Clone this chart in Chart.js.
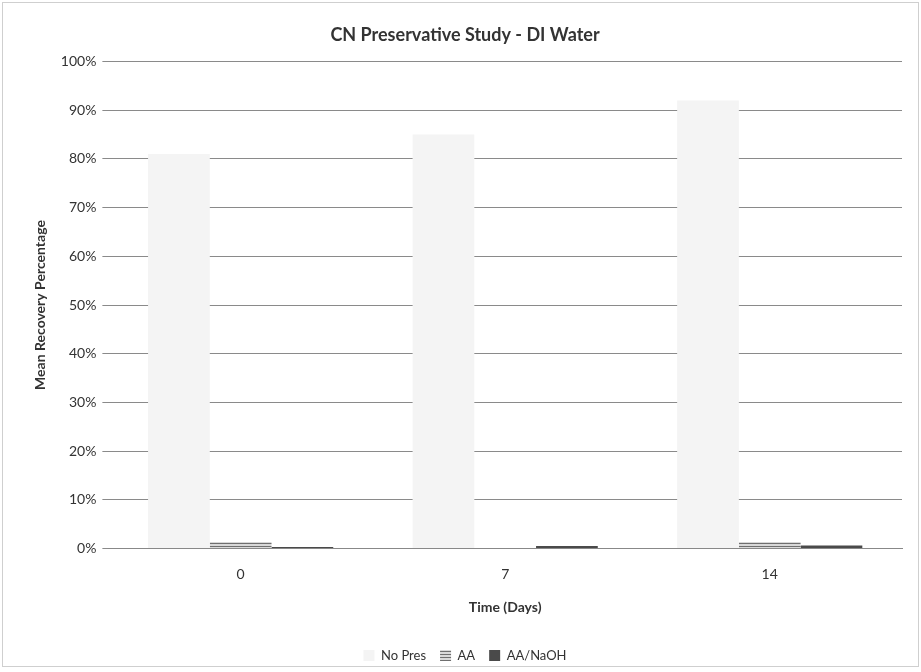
<!DOCTYPE html>
<html>
<head>
<meta charset="utf-8">
<script src="https://cdn.jsdelivr.net/npm/chart.js@4/dist/chart.umd.min.js"></script>
<style>
  body { margin: 0; background: #fff; }
  #wrap { width: 921px; height: 672px; }
</style>
</head>
<body>
<div id="wrap"><canvas id="cnChart" width="921" height="672"></canvas></div>
<script>
const days = ['0', '7', '14'];
const noPres = [81, 85, 92];
const aa = [1.3, 0.1, 1.3];
const aaNaOH = [0.3, 0.5, 0.6];
const yTicks = [0, 10, 20, 30, 40, 50, 60, 70, 80, 90, 100];

// horizontal stripes for the AA series
function stripes() {
  const c = document.createElement('canvas');
  c.width = 6; c.height = 3;
  const g = c.getContext('2d');
  g.fillStyle = '#d8d8d8';
  g.fillRect(0, 0, 6, 3);
  g.fillStyle = '#6f6f6f';
  g.fillRect(0, 0, 6, 1);
  return g.createPattern(c, 'repeat');
}

const frame = {
  id: 'frame',
  beforeDraw(chart) {
    const ctx = chart.ctx;
    ctx.save();
    ctx.fillStyle = '#fff';
    ctx.fillRect(0, 0, chart.width, chart.height);
    ctx.strokeStyle = '#cfcfcf';
    ctx.lineWidth = 1;
    ctx.strokeRect(2.5, 2.5, chart.width - 5, chart.height - 8);
    ctx.restore();
  }
};

Chart.defaults.font.family = 'Lato, "Liberation Sans", sans-serif';
Chart.defaults.color = '#333';

new Chart(document.getElementById('cnChart').getContext('2d'), {
  type: 'bar',
  data: {
    labels: days,
    datasets: [
      { label: 'No Pres', data: noPres, backgroundColor: '#f4f4f4' },
      { label: 'AA', data: aa, backgroundColor: stripes(), borderColor: '#777', borderWidth: 0 },
      { label: 'AA/NaOH', data: aaNaOH, backgroundColor: '#4a4a4a' }
    ]
  },
  options: {
    responsive: false,
    animation: false,
    layout: { padding: { left: 28, right: 19, top: 6, bottom: 0 } },
    datasets: { bar: { categoryPercentage: 0.7, barPercentage: 1.0 } },
    plugins: {
      title: {
        display: true,
        text: 'CN Preservative Study - DI Water',
        font: { size: 18, weight: 'bold' },
        color: '#333',
        padding: { top: 18, bottom: 16 }
      },
      legend: {
        position: 'bottom',
        labels: { boxWidth: 11, boxHeight: 11, padding: 14, font: { size: 13 }, color: '#333' }
      },
      tooltip: { enabled: false }
    },
    scales: {
      x: {
        grid: { display: false },
        border: { color: '#888' },
        ticks: { font: { size: 14 }, color: '#333', padding: 10 },
        title: { display: true, text: 'Time (Days)', font: { size: 14, weight: 'bold' }, color: '#333', padding: { top: 6, bottom: 19 } }
      },
      y: {
        min: 0,
        max: 100,
        afterBuildTicks(scale) { scale.ticks = yTicks.map(v => ({ value: v })); },
        grid: { color: '#8a8a8a', lineWidth: 1, tickLength: 6 },
        border: { display: false },
        ticks: { callback: v => v + '%', font: { size: 14 }, color: '#333', padding: 6 },
        title: { display: true, text: 'Mean Recovery Percentage', font: { size: 14, weight: 'bold' }, color: '#333', padding: { bottom: 6 } }
      }
    }
  },
  plugins: [frame]
});
</script>
</body>
</html>
